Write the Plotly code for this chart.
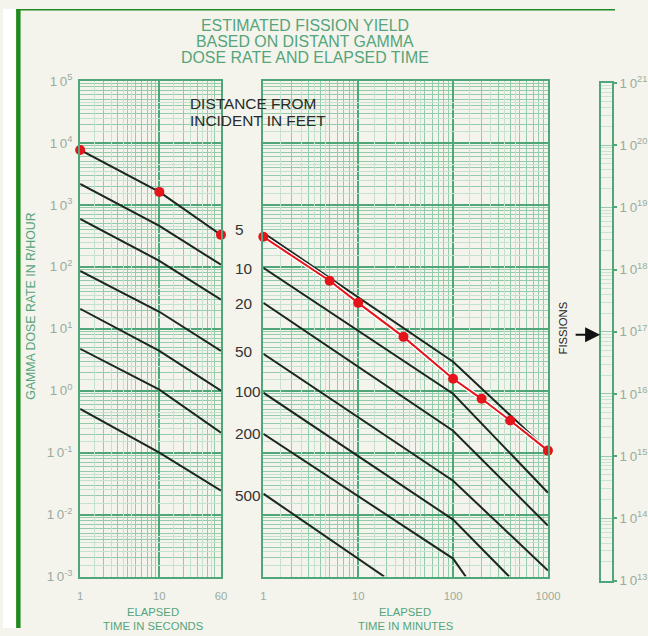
import plotly.graph_objects as go

# ---------------- data ----------------
distance_labels = ["5", "10", "20", "50", "100", "200", "500"]

seconds = [1, 10, 60]
dose_sec_5 = [7700, 1620, 328]
dose_sec_10 = [2180, 458, 108]
dose_sec_20 = [594, 125, 29.4]
dose_sec_50 = [86, 18.8, 4.4]
dose_sec_100 = [21, 4.4, 1.0]
dose_sec_200 = [4.75, 1.04, 0.21]
dose_sec_500 = [0.51, 0.10, 0.0244]

min_5 = [1, 100, 1000]
dose_min_5 = [353, 2.94, 0.108]
min_10 = [1, 100, 1000]
dose_min_10 = [96.4, 0.895, 0.0226]
min_20 = [1, 100, 1000]
dose_min_20 = [26.2, 0.226, 0.00665]
min_50 = [1, 100, 1000]
dose_min_50 = [3.95, 0.0353, 0.00125]
min_100 = [1, 100, 390]
dose_min_100 = [0.93, 0.0083, 0.001]
min_200 = [1, 100, 136]
dose_min_200 = [0.202, 0.00195, 0.001]
min_500 = [1, 18.8]
dose_min_500 = [0.0218, 0.001]

obs_seconds = [1, 10, 60]
obs_dose_sec = [7700, 1620, 328]
obs_minutes = [1, 5, 10, 30, 100, 200, 400, 1000]
obs_dose_min = [305, 59.5, 26.2, 7.4, 1.56, 0.74, 0.33, 0.108]

dose_exponents = [5, 4, 3, 2, 1, 0, -1, -2, -3]
fission_exponents = [21, 20, 19, 18, 17, 16, 15, 14, 13]
sec_ticks = [1, 10, 60]
min_ticks = [1, 10, 100, 1000]
fine_steps = [1.5, 2.5, 3.5, 4.5]

# ---------------- styling ----------------
W, H = 648, 636
# the figure shows up slightly reduced and offset in the final photograph;
# positions below are given in photograph pixels and mapped back
SX, SY = 0.959, 0.974
OXR, OYR = 2.66, 8.0
FONT = "Liberation Sans, Arial, Helvetica, sans-serif"
CREAM = "#f4f4ec"
MAJOR = "#4fa679"
MINOR = "#94cbaa"
FINE = "#c4e2cf"
TITLE_GREEN = "#55a47b"
TICK_GREY = "#9aab9f"
LINE_BLACK = "#1d2721"
RED = "#e5141b"
BORDER = "#1f8a1f"


def px(x):
    return ((x - OXR) / SX) / W


def py(y):
    return 1 - ((y - OYR) / SY) / H


def fs(size):
    return size / SY


fig = go.Figure()

sec_series = [dose_sec_5, dose_sec_10, dose_sec_20, dose_sec_50,
              dose_sec_100, dose_sec_200, dose_sec_500]
for ys in sec_series:
    fig.add_trace(go.Scatter(x=seconds, y=ys, mode="lines",
                             line=dict(color=LINE_BLACK, width=2),
                             xaxis="x", yaxis="y", showlegend=False, hoverinfo="skip"))

min_series = [(min_5, dose_min_5), (min_10, dose_min_10), (min_20, dose_min_20),
              (min_50, dose_min_50), (min_100, dose_min_100),
              (min_200, dose_min_200), (min_500, dose_min_500)]
for xs, ys in min_series:
    fig.add_trace(go.Scatter(x=xs, y=ys, mode="lines",
                             line=dict(color=LINE_BLACK, width=2),
                             xaxis="x2", yaxis="y2", showlegend=False, hoverinfo="skip"))

# red observed points
fig.add_trace(go.Scatter(x=obs_seconds, y=obs_dose_sec, mode="markers",
                         marker=dict(color=RED, size=10), cliponaxis=False,
                         xaxis="x", yaxis="y", showlegend=False))
fig.add_trace(go.Scatter(x=obs_minutes, y=obs_dose_min, mode="lines",
                         line=dict(color="white", width=4.5), cliponaxis=False,
                         xaxis="x2", yaxis="y2", showlegend=False, hoverinfo="skip"))
fig.add_trace(go.Scatter(x=obs_minutes, y=obs_dose_min, mode="lines+markers",
                         line=dict(color=RED, width=2),
                         marker=dict(color=RED, size=10), cliponaxis=False,
                         xaxis="x2", yaxis="y2", showlegend=False))

# invisible anchors so the fission scale and fine grids are drawn
for xa, ya, xv, yv in [("x3", "y3", 0.5, 1e17), ("x4", "y4", 1, 1), ("x5", "y5", 1, 1)]:
    fig.add_trace(go.Scatter(x=[xv], y=[yv], mode="markers", marker=dict(opacity=0),
                             xaxis=xa, yaxis=ya, showlegend=False, hoverinfo="skip"))

# ---------------- axes ----------------
ydom = [py(576), py(80)]
grid_common = dict(showgrid=True, gridcolor=MAJOR, gridwidth=2,
                   showline=True, linecolor=MAJOR, linewidth=2, mirror=True,
                   zeroline=False, fixedrange=True)
minor_common = dict(showgrid=True, gridcolor=MINOR, gridwidth=1, dtick="D1", ticks="")

dose_ticktext = ["1\u20090<sup>%d</sup>" % e for e in dose_exponents]
fiss_ticktext = ["1\u20090<sup>%d</sup>" % e for e in fission_exponents]

fine_sec = [s * 10 ** k for k in range(0, 2) for s in fine_steps]
fine_min = [s * 10 ** k for k in range(0, 3) for s in fine_steps]
fine_dose = [s * 10.0 ** k for k in range(-3, 5) for s in fine_steps]
fine_common = dict(showgrid=True, gridcolor=FINE, gridwidth=1, showticklabels=False,
                   ticks="", showline=False, zeroline=False, fixedrange=True)

fig.update_layout(
    width=W, height=H,
    margin=dict(l=0, r=0, t=0, b=0),
    paper_bgcolor=CREAM, plot_bgcolor=CREAM,
    font=dict(family=FONT),
    xaxis=dict(type="log", range=[0, 1.7782], domain=[px(81), px(224)], anchor="y",
               tickvals=sec_ticks, ticktext=[str(v) for v in sec_ticks],
               tickfont=dict(color=TICK_GREY, size=fs(11)),
               ticks="outside", ticklen=8, tickcolor="rgba(0,0,0,0)",
               minor=minor_common, **grid_common),
    yaxis=dict(type="log", range=[-3, 5], domain=ydom, anchor="x",
               tickvals=[10.0 ** e for e in dose_exponents], ticktext=dose_ticktext,
               tickfont=dict(color=TICK_GREY, size=fs(13)),
               ticks="outside", ticklen=3, tickcolor="rgba(0,0,0,0)",
               minor=minor_common, **grid_common),
    xaxis2=dict(type="log", range=[0, 3], domain=[px(267), px(556)], anchor="y2",
                tickvals=min_ticks, ticktext=[str(v) for v in min_ticks],
                tickfont=dict(color=TICK_GREY, size=fs(11)),
                ticks="outside", ticklen=8, tickcolor="rgba(0,0,0,0)",
                minor=minor_common, **grid_common),
    yaxis2=dict(type="log", range=[-3, 5], domain=ydom, anchor="x2",
                showticklabels=False,
                tickvals=[10.0 ** e for e in dose_exponents],
                minor=minor_common, **grid_common),
    xaxis4=dict(type="log", range=[0, 1.7782], domain=[px(81), px(224)], anchor="y4",
                overlaying="x", tickvals=fine_sec, **fine_common),
    yaxis4=dict(type="log", range=[-3, 5], domain=ydom, anchor="x4",
                overlaying="y", tickvals=fine_dose, **fine_common),
    xaxis5=dict(type="log", range=[0, 3], domain=[px(267), px(556)], anchor="y5",
                overlaying="x2", tickvals=fine_min, **fine_common),
    yaxis5=dict(type="log", range=[-3, 5], domain=ydom, anchor="x5",
                overlaying="y2", tickvals=fine_dose, **fine_common),
    xaxis3=dict(range=[0, 1], domain=[px(610), px(621)], anchor="y3",
                showticklabels=False, showgrid=False, showline=True, mirror=True,
                linecolor=MAJOR, linewidth=2, zeroline=False, fixedrange=True),
    yaxis3=dict(type="log", range=[13, 21], domain=[py(580), py(82)], anchor="x3",
                side="right", tickvals=[10.0 ** e for e in fission_exponents],
                ticktext=fiss_ticktext,
                tickfont=dict(color=TICK_GREY, size=fs(13)),
                ticks="outside", ticklen=3, tickcolor=MAJOR, tickwidth=2,
                showgrid=True, gridcolor=MINOR, gridwidth=1,
                showline=True, linecolor=MAJOR, linewidth=2, mirror=True,
                minor=dict(showgrid=True, gridcolor="#c8e3d2", gridwidth=1, dtick="D1", ticks=""),
                zeroline=False, fixedrange=True),
)

# ---------------- frame ----------------
shapes = [
    dict(type="rect", xref="paper", yref="paper", x0=0, x1=px(16), y0=0, y1=1,
         fillcolor="white", line_width=0, layer="below"),
    dict(type="rect", xref="paper", yref="paper", x0=px(16), x1=px(20.5), y0=0, y1=1,
         fillcolor=BORDER, line_width=0),
    dict(type="rect", xref="paper", yref="paper", x0=px(16), x1=1, y0=py(9.5), y1=1,
         fillcolor=BORDER, line_width=0),
]
fig.update_layout(shapes=shapes)

# ---------------- text ----------------
ann = []
for i, t in enumerate(["ESTIMATED FISSION YIELD", "BASED ON DISTANT GAMMA",
                       "DOSE RATE AND ELAPSED TIME"]):
    ann.append(dict(text=t, x=px(309), y=py(24.5 + 16 * i), xref="paper", yref="paper",
                    showarrow=False, xanchor="center", yanchor="middle",
                    font=dict(color=TITLE_GREEN, size=fs(15.5), family=FONT)))

for i, t in enumerate(["DISTANCE FROM", "INCIDENT IN FEET"]):
    ann.append(dict(text=t, x=px(191), y=py(103 + 16.5 * i), xref="paper", yref="paper",
                    showarrow=False, xanchor="left", yanchor="middle",
                    font=dict(color="#2a2a2a", size=fs(15), family=FONT)))

label_y = [229, 268, 303, 351, 391, 433, 495]
for lab, yy in zip(distance_labels, label_y):
    ann.append(dict(text=lab, x=px(236), y=py(yy), xref="paper", yref="paper",
                    showarrow=False, xanchor="left", yanchor="middle",
                    font=dict(color="#333333", size=fs(15), family=FONT)))

ann.append(dict(text="GAMMA DOSE RATE IN R/HOUR", x=px(31), y=py(305),
                xref="paper", yref="paper", showarrow=False, textangle=-90,
                xanchor="center", yanchor="middle",
                font=dict(color=TITLE_GREEN, size=fs(12), family=FONT)))

for cx, lines in [(155, ["ELAPSED", "TIME IN SECONDS"]), (411, ["ELAPSED", "TIME IN MINUTES"])]:
    for i, t in enumerate(lines):
        ann.append(dict(text=t, x=px(cx), y=py(611 + 14.5 * i), xref="paper", yref="paper",
                        showarrow=False, xanchor="center", yanchor="middle",
                        font=dict(color=TITLE_GREEN, size=fs(11), family=FONT)))

ann.append(dict(text="FISSIONS", x=px(571), y=py(327), xref="paper", yref="paper",
                showarrow=False, textangle=-90, xanchor="center", yanchor="middle",
                font=dict(color="#222222", size=fs(11), family=FONT)))
ann.append(dict(text="", x=px(609), y=py(334), xref="paper", yref="paper",
                ax=-26, ay=0, axref="pixel", ayref="pixel",
                showarrow=True, arrowhead=2, arrowsize=1.5, arrowwidth=2,
                arrowcolor="#111111"))

fig.update_layout(annotations=ann)

body_bg = ("document.body.style.background="
           "'linear-gradient(#1f8a1f,#1f8a1f) 16px 5px / 700px 4.5px no-repeat,"
           "linear-gradient(#1f8a1f,#1f8a1f) 16px 631px / 700px 60px no-repeat,"
           "linear-gradient(#1f8a1f,#1f8a1f) 16px 5px / 4.5px 700px no-repeat,"
           "linear-gradient(#f4f4ec,#f4f4ec) 20px 9px / 700px 700px no-repeat,"
           "white';")

fig.write_html("out.html", post_script=body_bg)
